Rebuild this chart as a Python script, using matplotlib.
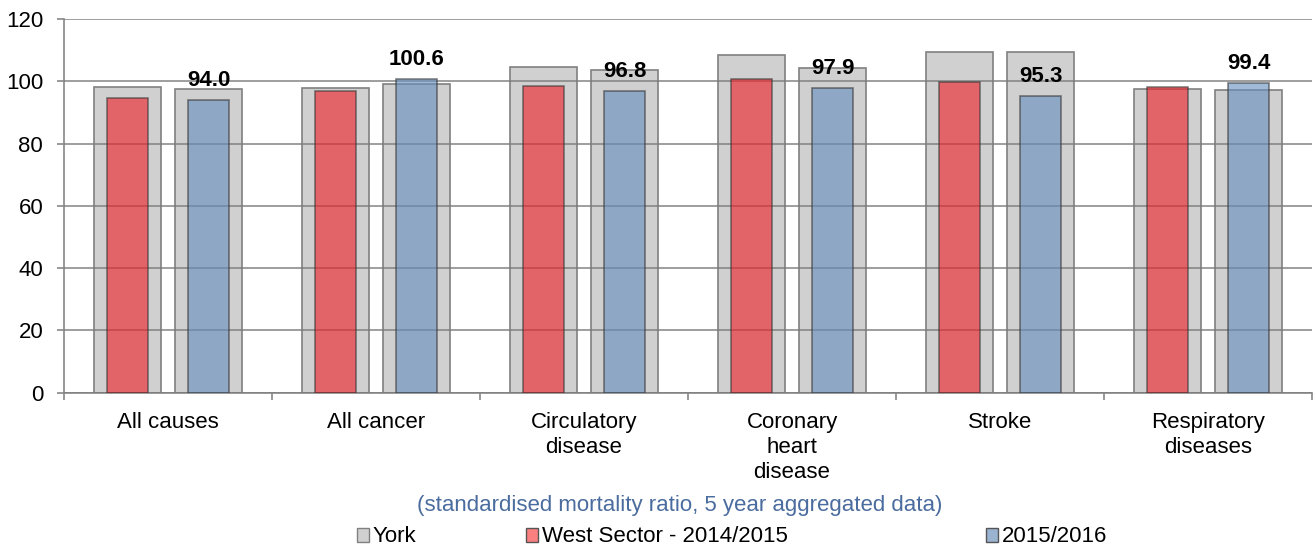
import matplotlib

matplotlib.use("Agg")
import matplotlib.pyplot as plt
import numpy as np
from matplotlib.patches import Patch

plt.rcParams["font.family"] = ["Liberation Sans", "DejaVu Sans"]

CATEGORIES = ["All causes", "All cancer", "Circulatory\ndisease", "Coronary\nheart\ndisease",
              "Stroke", "Respiratory\ndiseases"]
# York comparator, one per period
YORK_2014 = [98.1, 97.9, 104.7, 108.4, 109.5, 97.6]
YORK_2015 = [97.5, 99.0, 103.5, 104.3, 109.3, 97.1]
# West Sector
WEST_2014 = [94.5, 97.0, 98.4, 100.7, 99.7, 98.3]
WEST_2015 = [94.0, 100.6, 96.8, 97.9, 95.3, 99.4]
LEGEND_LABELS = ["York", "West Sector - 2014/2015", "2015/2016"]

GREY = "#D0D0D0"
RED = (0.945, 0.11, 0.137, 0.6)
BLUE = (0.384, 0.553, 0.749, 0.6)
FS = 16


def main() -> None:
    fig = plt.figure(figsize=(13.14, 5.46), dpi=100)
    ax = fig.add_axes([64 / 1314, 1 - 392.7 / 546, 1248 / 1314, (392.7 - 19) / 546])

    x = np.arange(len(CATEGORIES))
    off, wide, narrow = 0.195, 0.32, 0.2

    ax.bar(x - off, YORK_2014, wide, color=GREY, edgecolor="#808080", linewidth=1.2, zorder=2)
    ax.bar(x + off, YORK_2015, wide, color=GREY, edgecolor="#808080", linewidth=1.2, zorder=2)
    ax.bar(x - off, WEST_2014, narrow, color=RED, edgecolor=(0.2, 0.2, 0.2, 0.6), linewidth=1.2, zorder=3)
    ax.bar(x + off, WEST_2015, narrow, color=BLUE, edgecolor=(0.2, 0.2, 0.2, 0.6), linewidth=1.2, zorder=3)

    for xi, v in zip(x + off, WEST_2015):
        ax.annotate(f"{v:.1f}", (xi, v), xytext=(0, 6.5), textcoords="offset points",
                    ha="center", va="bottom", fontsize=FS, fontweight="bold", zorder=5)

    ax.set_xlim(-0.5, len(CATEGORIES) - 0.5)
    ax.set_ylim(0, 120)
    ax.set_yticks(range(0, 121, 20))
    ax.yaxis.grid(True, color="#7A7A7A", linewidth=1.2, alpha=0.85, zorder=4)
    ax.set_axisbelow(False)

    ax.set_xticks(x)
    ax.set_xticklabels(CATEGORIES, fontsize=FS, linespacing=1.25, va="top")
    ax.set_xticks(np.arange(-0.5, len(CATEGORIES)), minor=True)
    ax.tick_params(axis="x", which="major", length=0, pad=14)
    ax.tick_params(axis="x", which="minor", length=5, width=1.2, color="#888888", direction="out")
    ax.tick_params(axis="y", length=5, width=1.2, color="#888888", labelsize=FS, pad=10)

    for side in ("top", "right"):
        ax.spines[side].set_visible(False)
    for side in ("left", "bottom"):
        ax.spines[side].set_color("#888888")
        ax.spines[side].set_linewidth(1.2)

    fig.text(0.5175, 1 - 505 / 546, "(standardised mortality ratio, 5 year aggregated data)",
             ha="center", va="center", fontsize=FS, color="#4A6C9E")

    handles = [
        Patch(facecolor=GREY, edgecolor="#808080"),
        Patch(facecolor=(0.98, 0.5, 0.5), edgecolor="#555555"),
        Patch(facecolor=(0.6, 0.7, 0.82), edgecolor="#555555"),
    ]
    legend_x = [357, 526, 986]
    for h, lab, lx in zip(handles, LEGEND_LABELS, legend_x):
        fig.legend([h], [lab], loc="center left", bbox_to_anchor=(lx / 1314, 1 - 537 / 546),
                   frameon=False, fontsize=FS, handlelength=0.55, handleheight=0.6,
                   handletextpad=0.15, borderpad=0, borderaxespad=0)

    fig.savefig("out.png", dpi=100)
    plt.close(fig)


if __name__ == "__main__":
    main()
